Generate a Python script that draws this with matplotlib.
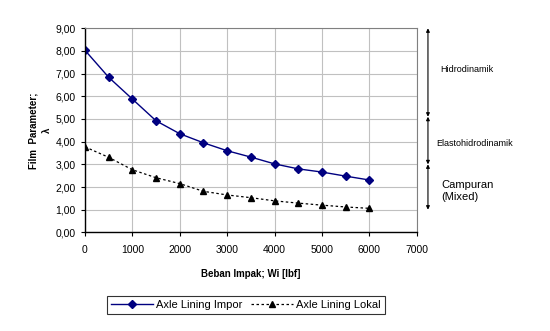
import matplotlib
matplotlib.use("Agg")
import matplotlib.pyplot as plt
from matplotlib.ticker import FuncFormatter

plt.rcParams['font.family'] = ['Liberation Sans', 'DejaVu Sans']

beban = [0, 500, 1000, 1500, 2000, 2500, 3000, 3500, 4000, 4500, 5000, 5500, 6000]
impor = [8.03, 6.84, 5.88, 4.92, 4.35, 3.95, 3.60, 3.32, 3.02, 2.80, 2.66, 2.48, 2.31]
lokal = [3.77, 3.31, 2.76, 2.41, 2.15, 1.81, 1.65, 1.53, 1.39, 1.29, 1.20, 1.12, 1.06]

# regimes: (label, y bawah, y atas)
regimes = [("Hidrodinamik", 5.1, 9.0), ("Elastohidrodinamik", 3.0, 5.1), ("Campuran\n(Mixed)", 1.0, 3.0)]

fig = plt.figure(figsize=(5.5, 3.31), dpi=100)
ax = fig.add_axes([0.1545, 0.298, 0.6031, 0.6165])

ax.plot(beban, impor, color='#000080', marker='D', markersize=4, linewidth=1.0,
        label='Axle Lining Impor')
ax.plot(beban, lokal, color='black', marker='^', markersize=4.5, linewidth=0.9,
        linestyle=(0, (2, 2)), label='Axle Lining Lokal')

ax.set_xlim(0, 7000)
ax.set_ylim(0, 9)
ax.set_xticks(range(0, 7001, 1000))
ax.set_yticks(range(0, 10))
ax.yaxis.set_major_formatter(FuncFormatter(lambda v, p: ('%.2f' % v).replace('.', ',')))
ax.grid(True, color='#c0c0c0', linewidth=0.8)
ax.set_axisbelow(True)
ax.tick_params(labelsize=7.5, length=3, width=0.8, direction='out')
ax.tick_params(axis='x', pad=6)
for s in ['top', 'right']:
    ax.spines[s].set_color('#808080')
for s in ['left', 'bottom']:
    ax.spines[s].set_linewidth(1.0)

ax.set_xlabel('Beban Impak; Wi [lbf]', fontsize=7, fontweight='bold', labelpad=10)
ax.set_ylabel('Film  Parameter;\n\u03bb', fontsize=7, fontweight='bold', labelpad=3,
              linespacing=1.4)

tr = ax.get_yaxis_transform()
for label, lo, hi in regimes:
    ax.annotate('', xy=(1.034, hi), xytext=(1.034, lo), xycoords=tr, textcoords=tr,
                arrowprops=dict(arrowstyle='<|-|>', color='black', lw=0.8,
                                mutation_scale=5, shrinkA=0, shrinkB=0),
                annotation_clip=False)
fig.text(0.800, 1 - 70 / 331, 'Hidrodinamik', fontsize=6.5, va='center')
fig.text(0.793, 1 - 143 / 331, 'Elastohidrodinamik', fontsize=6.5, va='center')
fig.text(0.802, 1 - 191 / 331, 'Campuran\n(Mixed)', fontsize=8, va='center',
         linespacing=1.3)

leg = fig.legend(loc='center', bbox_to_anchor=(0.447, 1 - 305 / 331), ncol=2,
                 fontsize=8, frameon=True, fancybox=False, edgecolor='black',
                 handlelength=3.8, columnspacing=0.7, handletextpad=0.3,
                 borderpad=0.35)
leg.get_frame().set_linewidth(0.8)

fig.savefig('out.png', dpi=100)
